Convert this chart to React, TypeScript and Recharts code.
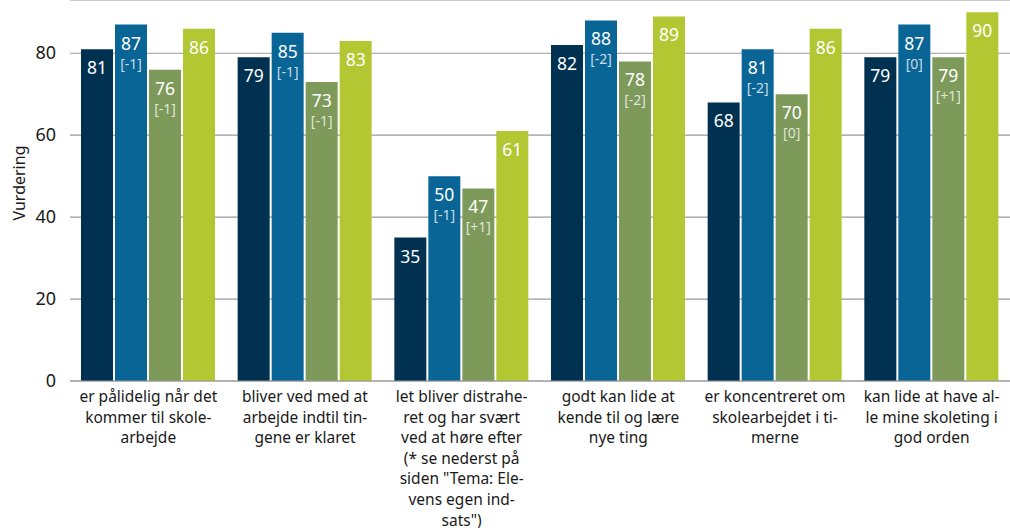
import { BarChart, Bar, XAxis, YAxis, CartesianGrid, LabelList } from 'recharts';

const categories = [
  'er pålidelig når det kommer til skolearbejde',
  'bliver ved med at arbejde indtil tingene er klaret',
  'let bliver distraheret og har svært ved at høre efter',
  'godt kan lide at kende til og lære nye ting',
  'er koncentreret om skolearbejdet i timerne',
  'kan lide at have alle mine skoleting i god orden',
];

// wrapped exactly as in the original layout
const tickLines = [
  ['er pålidelig når det', 'kommer til skole-', 'arbejde'],
  ['bliver ved med at', 'arbejde indtil tin-', 'gene er klaret'],
  ['let bliver distrahe-', 'ret og har svært', 'ved at høre efter', '(* se nederst på', 'siden "Tema: Ele-', 'vens egen ind-', 'sats")'],
  ['godt kan lide at', 'kende til og lære', 'nye ting'],
  ['er koncentreret om', 'skolearbejdet i ti-', 'merne'],
  ['kan lide at have al-', 'le mine skoleting i', 'god orden'],
];

const seriesA = [81, 79, 35, 82, 68, 79];
const seriesB = [87, 85, 50, 88, 81, 87];
const seriesC = [76, 73, 47, 78, 70, 79];
const seriesD = [86, 83, 61, 89, 86, 90];

const changeB = ['[-1]', '[-1]', '[-1]', '[-2]', '[-2]', '[0]'];
const changeC = ['[-1]', '[-1]', '[+1]', '[-2]', '[0]', '[+1]'];

const yTicks = [0, 20, 40, 60, 80];

const FONT = "'Noto Sans', sans-serif";

const data = categories.map((name, i) => ({
  name,
  a: seriesA[i],
  b: seriesB[i],
  c: seriesC[i],
  d: seriesD[i],
}));

const makeLabel = (changes?: string[]) => (props: any) => {
  const { x, y, width, value, index } = props;
  const cx = Number(x) + Number(width) / 2;
  const top = Number(y);
  return (
    <g>
      <text x={cx} y={top + 25} textAnchor="middle" fill="#fff" fontSize={17.5} fontFamily={FONT}>
        {value}
      </text>
      {changes && (
        <text x={cx} y={top + 44} textAnchor="middle" fill="#fff" fillOpacity={0.78} fontSize={14} fontFamily={FONT}>
          {changes[index]}
        </text>
      )}
    </g>
  );
};

// y here is the axis line, so baselines are measured from it
const CategoryTick = ({ x, payload }: any) => {
  const lines = tickLines[payload.index] || [payload.value];
  return (
    <g>
      {lines.map((l, i) => (
        <text key={i} x={x} y={402 + i * 20.6} textAnchor="middle" fill="#1a1a1a" fontSize={15.5} fontFamily={FONT}>
          {l}
        </text>
      ))}
    </g>
  );
};

const ValueTick = ({ y, payload }: any) => (
  <text x={56} y={y + 6} textAnchor="end" fill="#1a1a1a" fontSize={18} fontFamily={FONT}>
    {payload.value}
  </text>
);

const YLabel = () => (
  <text transform="translate(25,183) rotate(-90)" textAnchor="middle" fill="#1a1a1a" fontSize={16} fontFamily={FONT}>
    Vurdering
  </text>
);

export default function App() {
  return (
    <div style={{ position: 'absolute', left: 0, top: 0, background: '#fff' }}>
      <BarChart
        width={1010}
        height={528}
        data={data}
        margin={{ top: 0, right: 0, bottom: 7, left: 0 }}
        barCategoryGap={11}
        barGap={2}
      >
        <CartesianGrid vertical={false} stroke="#9a9a9a" strokeWidth={1.2} />
        <XAxis
          dataKey="name"
          interval={0}
          height={140}
          tick={<CategoryTick />}
          tickLine={false}
          axisLine={{ stroke: '#9a9a9a', strokeWidth: 1.2 }}
        />
        <YAxis
          width={70}
          domain={[0, 93]}
          ticks={yTicks}
          tick={<ValueTick />}
          tickLine={false}
          axisLine={false}
          label={<YLabel />}
        />
        <Bar dataKey="a" fill="#003150" isAnimationActive={false}>
          <LabelList dataKey="a" content={makeLabel()} />
        </Bar>
        <Bar dataKey="b" fill="#0a6597" isAnimationActive={false}>
          <LabelList dataKey="b" content={makeLabel(changeB)} />
        </Bar>
        <Bar dataKey="c" fill="#7e9a5a" isAnimationActive={false}>
          <LabelList dataKey="c" content={makeLabel(changeC)} />
        </Bar>
        <Bar dataKey="d" fill="#b3c733" isAnimationActive={false}>
          <LabelList dataKey="d" content={makeLabel()} />
        </Bar>
      </BarChart>
    </div>
  );
}
